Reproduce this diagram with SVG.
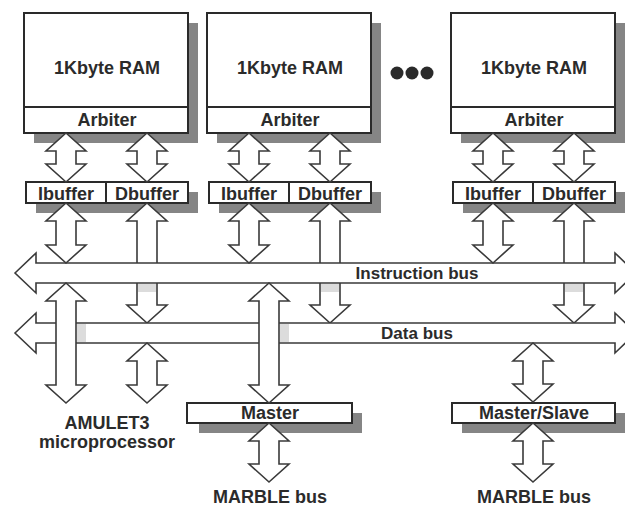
<svg xmlns="http://www.w3.org/2000/svg" width="625" height="507" viewBox="0 0 625 507">
<style>
.sh{fill:#858585}
.bx{fill:#fff;stroke:#2a2a2a;stroke-width:2}
.ln{stroke:#2a2a2a;stroke-width:2}
.ar{fill:#fff;stroke:#3a3a3a;stroke-width:1.6;stroke-linejoin:miter}
.sm{fill:#dcdcdc}
text{font-family:"Liberation Sans",Arial,sans-serif;font-weight:bold;fill:#2b2b2b;text-anchor:middle}
.t18{font-size:18px}
.t17{font-size:17px}
</style>
<rect width="625" height="507" fill="#fff"/>
<g id="ram1">
<rect class="sh" x="34" y="23" width="164" height="120"/>
<rect class="bx" x="24" y="13" width="164" height="120"/>
<line class="ln" x1="24" y1="107" x2="188" y2="107"/>
<text class="t18" x="107" y="74">1Kbyte RAM</text>
<text class="t18" x="107" y="126">Arbiter</text>
</g>
<g id="ram2">
<rect class="sh" x="217" y="23" width="164" height="120"/>
<rect class="bx" x="207" y="13" width="164" height="120"/>
<line class="ln" x1="207" y1="107" x2="371" y2="107"/>
<text class="t18" x="290" y="74">1Kbyte RAM</text>
<text class="t18" x="290" y="126">Arbiter</text>
</g>
<g id="ellipsis">
<circle cx="397" cy="73" r="6.5" fill="#2a2a2a"/>
<circle cx="412" cy="73" r="6.5" fill="#2a2a2a"/>
<circle cx="427" cy="73" r="6.5" fill="#2a2a2a"/>
</g>
<g id="ram3">
<rect class="sh" x="461" y="23" width="164" height="120"/>
<rect class="bx" x="451" y="13" width="164" height="120"/>
<line class="ln" x1="451" y1="107" x2="615" y2="107"/>
<text class="t18" x="534" y="74">1Kbyte RAM</text>
<text class="t18" x="534" y="126">Arbiter</text>
</g>
<g id="buffers1">
<rect class="sh" x="36" y="192" width="162" height="21"/>
<rect class="bx" x="26" y="182" width="162" height="21"/>
<line class="ln" x1="106" y1="182" x2="106" y2="203"/>
<text class="t18" x="66" y="200">Ibuffer</text>
<text class="t18" x="147" y="200">Dbuffer</text>
</g>
<g id="buffers2">
<rect class="sh" x="219" y="192" width="162" height="21"/>
<rect class="bx" x="209" y="182" width="162" height="21"/>
<line class="ln" x1="289" y1="182" x2="289" y2="203"/>
<text class="t18" x="249" y="200">Ibuffer</text>
<text class="t18" x="330" y="200">Dbuffer</text>
</g>
<g id="buffers3">
<rect class="sh" x="463" y="192" width="162" height="21"/>
<rect class="bx" x="453" y="182" width="162" height="21"/>
<line class="ln" x1="533" y1="182" x2="533" y2="203"/>
<text class="t18" x="493" y="200">Ibuffer</text>
<text class="t18" x="574" y="200">Dbuffer</text>
</g>
<g id="master">
<rect class="sh" x="199" y="413" width="163" height="20"/>
<rect class="bx" x="187" y="403" width="165" height="20"/>
<text class="t18" x="270" y="419">Master</text>
</g>
<g id="master-slave">
<rect class="sh" x="462" y="413" width="163" height="20"/>
<rect class="bx" x="452" y="403" width="163" height="20"/>
<text class="t18" x="534" y="419">Master/Slave</text>
</g>
<g id="amulet3">
<text class="t18" x="107" y="429">AMULET3</text>
<text class="t18" x="107" y="448">microprocessor</text>
</g>
<g id="marble1"><text class="t18" x="270" y="503">MARBLE bus</text></g>
<g id="marble2"><text class="t18" x="534" y="503">MARBLE bus</text></g>
<g id="connectors-back">
<path class="ar" d="M147,203 L167,221 H157 V305 H167 L147,323 L127,305 H137 V221 H127 Z"/>
<path class="ar" d="M330,203 L350,221 H340 V305 H350 L330,323 L310,305 H320 V221 H310 Z"/>
<path class="ar" d="M574,203 L594,221 H584 V305 H594 L574,323 L554,305 H564 V221 H554 Z"/>
</g>
<g id="instruction-bus">
<path class="ar" d="M15,273 L36,253 V263 H615 V253 L636,273 L615,293 V283 H36 V293 Z"/>
<text class="t17" x="417" y="279">Instruction bus</text>
</g>
<g id="data-bus">
<path class="ar" d="M15,333 L36,313 V323 H615 V313 L636,333 L615,353 V343 H36 V353 Z"/>
<text class="t17" x="417" y="339">Data bus</text>
</g>
<g id="connectors">
<rect class="sm" x="138" y="284" width="18" height="8"/>
<rect class="sm" x="321" y="284" width="18" height="8"/>
<rect class="sm" x="565" y="284" width="18" height="8"/>
<rect class="sm" x="77" y="324" width="9" height="18"/>
<rect class="sm" x="280" y="324" width="9" height="18"/>
<path class="ar" d="M66,133 L86,151 H76 V164 H86 L66,182 L46,164 H56 V151 H46 Z"/>
<path class="ar" d="M147,133 L167,151 H157 V164 H167 L147,182 L127,164 H137 V151 H127 Z"/>
<path class="ar" d="M249,133 L269,151 H259 V164 H269 L249,182 L229,164 H239 V151 H229 Z"/>
<path class="ar" d="M330,133 L350,151 H340 V164 H350 L330,182 L310,164 H320 V151 H310 Z"/>
<path class="ar" d="M493,133 L513,151 H503 V164 H513 L493,182 L473,164 H483 V151 H473 Z"/>
<path class="ar" d="M574,133 L594,151 H584 V164 H594 L574,182 L554,164 H564 V151 H554 Z"/>
<path class="ar" d="M66,203 L86,221 H76 V245 H86 L66,263 L46,245 H56 V221 H46 Z"/>
<path class="ar" d="M249,203 L269,221 H259 V245 H269 L249,263 L229,245 H239 V221 H229 Z"/>
<path class="ar" d="M493,203 L513,221 H503 V245 H513 L493,263 L473,245 H483 V221 H473 Z"/>
<path class="ar" d="M66,283 L86,301 H76 V385 H86 L66,403 L46,385 H56 V301 H46 Z"/>
<path class="ar" d="M147,343 L167,361 H157 V385 H167 L147,403 L127,385 H137 V361 H127 Z"/>
<path class="ar" d="M269,283 L289,301 H279 V385 H289 L269,403 L249,385 H259 V301 H249 Z"/>
<path class="ar" d="M269,423 L289,441 H279 V464 H289 L269,482 L249,464 H259 V441 H249 Z"/>
<path class="ar" d="M533,343 L553,361 H543 V384 H553 L533,402 L513,384 H523 V361 H513 Z"/>
<path class="ar" d="M533,423 L553,441 H543 V464 H553 L533,482 L513,464 H523 V441 H513 Z"/>
</g>
</svg>
